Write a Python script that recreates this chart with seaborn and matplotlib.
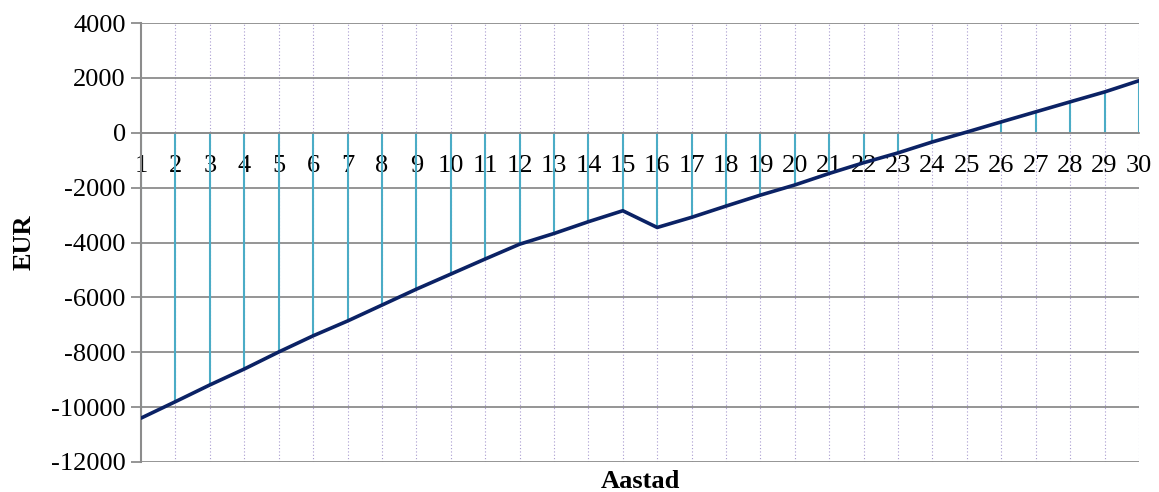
import matplotlib
matplotlib.use("Agg")
import matplotlib.pyplot as plt
import seaborn as sns
import pandas as pd

# ─── Data ─────────────────────────────────────────────────────────────────────
years = list(range(1, 31))
cash_flow = [-10400, -9800, -9190, -8610, -7990, -7400, -6860, -6280, -5700, -5150,
             -4600, -4060, -3670, -3240, -2840, -3450, -3080, -2670, -2270, -1900,
             -1480, -1090, -730, -330, 30, 400, 765, 1130, 1490, 1900]
y_ticks = [4000, 2000, 0, -2000, -4000, -6000, -8000, -10000, -12000]

LINE_COLOR = "#0B2265"
DROP_COLOR = "#4BACC6"
GRID_COLOR = "#8C8C8C"
VGRID_COLOR = "#A99BD0"
FS = 19

sns.set_style("white")
plt.rcParams["font.family"] = ["Liberation Serif", "DejaVu Serif"]
plt.rcParams["axes.unicode_minus"] = False
plt.rcParams["text.color"] = "black"
plt.rcParams["axes.labelcolor"] = "black"
plt.rcParams["xtick.labelcolor"] = "black"
plt.rcParams["ytick.labelcolor"] = "black"

df = pd.DataFrame({"Aastad": years, "EUR": cash_flow})

fig, ax = plt.subplots(figsize=(11.59, 4.92), dpi=100)
fig.subplots_adjust(left=0.1217, right=0.9827, top=0.953, bottom=0.061)

# horizontal gridlines
ax.set_yticks(y_ticks)
ax.yaxis.grid(True, color=GRID_COLOR, linewidth=1.3)
# vertical dotted gridlines at each year
for x in years[1:]:
    ax.axvline(x, color=VGRID_COLOR, linestyle=(0, (1, 2)), linewidth=0.8, zorder=0)

# drop lines from zero to the value
ax.vlines(df["Aastad"], 0, df["EUR"], color=DROP_COLOR, linewidth=1.5, zorder=2)

sns.lineplot(data=df, x="Aastad", y="EUR", color=LINE_COLOR, linewidth=2.6, ax=ax, zorder=3)

ax.set_xlim(1, 30)
ax.set_ylim(-12000, 4000)
ax.set_xticks(years)
ax.set_xticklabels([str(y) for y in years])

for s in ["top", "right"]:
    ax.spines[s].set_visible(False)
ax.spines["bottom"].set_position(("data", 0))
ax.spines["bottom"].set_color(GRID_COLOR)
ax.spines["bottom"].set_linewidth(1.3)
ax.spines["left"].set_color(GRID_COLOR)
ax.spines["left"].set_linewidth(1.5)

ax.tick_params(axis="x", length=0, pad=16, labelsize=FS)
ax.tick_params(axis="y", length=7, width=1.3, color=GRID_COLOR, left=True,
               labelsize=FS, pad=4)

ax.set_xlabel("Aastad", fontsize=FS, fontweight="bold", va="top")
ax.xaxis.set_label_coords(0.5, -0.018)
ax.set_ylabel("EUR", fontsize=FS, fontweight="bold", va="center")
ax.yaxis.set_label_coords(-0.117, 0.5)

fig.savefig("out.png", dpi=100)
